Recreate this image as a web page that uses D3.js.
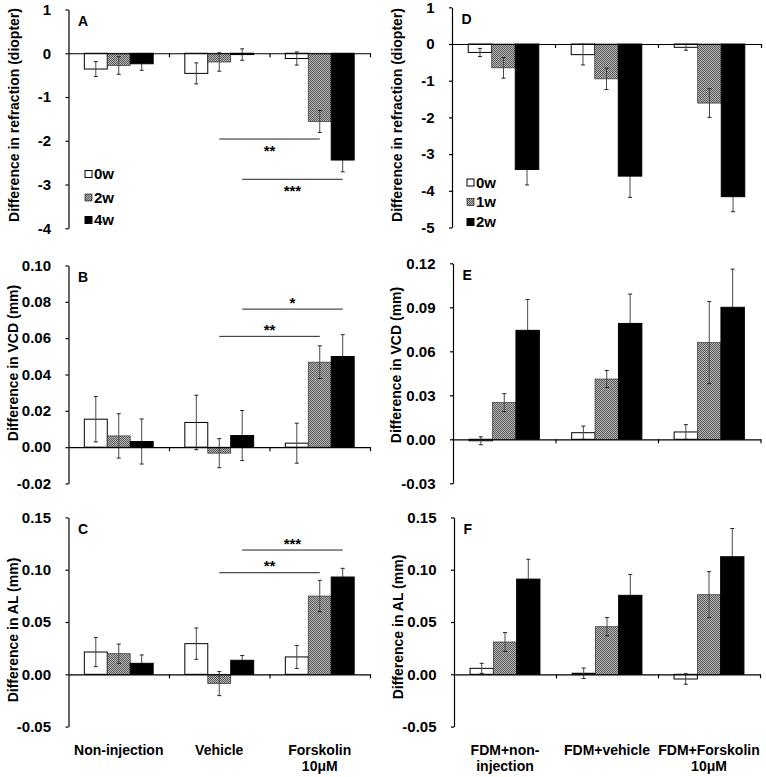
<!DOCTYPE html>
<html>
<head>
<meta charset="utf-8">
<script src="https://cdn.jsdelivr.net/npm/d3@7"></script>
<style>
  html, body { margin: 0; padding: 0; background: #fff; }
  svg { display: block; }
  text { font-family: "Liberation Sans", Arial, Helvetica, sans-serif; font-weight: bold; fill: #000; }
</style>
</head>
<body>
<script>
// ---------------- DATA ----------------
const catsLeft = ["Non-injection", "Vehicle", "Forskolin 10μM"];
const catLinesLeft = [["Non-injection"], ["Vehicle"], ["Forskolin", "10μM"]];
const catsRight = ["FDM+non-injection", "FDM+vehicle", "FDM+Forskolin 10μM"];
const catLinesRight = [["FDM+non-", "injection"], ["FDM+vehicle"], ["FDM+Forskolin", "10μM"]];
const seriesLeft = ["0w", "2w", "4w"];
const seriesRight = ["0w", "1w", "2w"];

// values per series (rows) x category (columns)
const refrA    = [[-0.36, -0.46, -0.12], [-0.28, -0.20, -1.56], [-0.24, -0.03, -2.44]];
const refrAErr = [[0.17, 0.24, 0.15], [0.20, 0.21, 0.25], [0.15, 0.13, 0.27]];
const vcdB     = [[0.0154, 0.0136, 0.0022], [0.0062, -0.0033, 0.0468], [0.0031, 0.0064, 0.0499]];
const vcdBErr  = [[0.0125, 0.0150, 0.0110], [0.0122, 0.0080, 0.0090], [0.0124, 0.0138, 0.0120]];
const alC      = [[0.0213, 0.0293, 0.0166], [0.0197, -0.0089, 0.0748], [0.0105, 0.0134, 0.0930]];
const alCErr   = [[0.0140, 0.0150, 0.0110], [0.0092, 0.0115, 0.0150], [0.0080, 0.0045, 0.0083]];
const refrD    = [[-0.23, -0.29, -0.09], [-0.65, -0.95, -1.61], [-3.42, -3.60, -4.16]];
const refrDErr = [[0.11, 0.28, 0.08], [0.28, 0.29, 0.39], [0.42, 0.58, 0.41]];
const vcdE     = [[-0.0010, 0.0045, 0.0050], [0.0250, 0.0411, 0.0659], [0.0743, 0.0790, 0.0900]];
const vcdEErr  = [[0.0027, 0.0045, 0.0050], [0.0061, 0.0058, 0.0280], [0.0210, 0.0200, 0.0260]];
const alF      = [[0.0057, 0.0010, -0.0045], [0.0309, 0.0455, 0.0761], [0.0910, 0.0755, 0.1124]];
const alFErr   = [[0.0048, 0.0050, 0.0050], [0.0090, 0.0087, 0.0220], [0.0190, 0.0200, 0.0270]];

// y tick labels
const ticksRefrA = [1, 0, -1, -2, -3, -4];
const ticksRefrD = [1, 0, -1, -2, -3, -4, -5];
const ticksVcdB = [0.10, 0.08, 0.06, 0.04, 0.02, 0.00, -0.02];
const ticksVcdE = [0.12, 0.09, 0.06, 0.03, 0.00, -0.03];
const ticksAL = [0.15, 0.10, 0.05, 0.00, -0.05];

// significance brackets: [fromCategory, fromSeries] -> [toCategory, toSeries] at value y
const sigA = [
  { from: [1, 1], to: [2, 1], y: -1.96, label: "**", side: "below" },
  { from: [1, 2], to: [2, 2], y: -2.88, label: "***", side: "below" }
];
const sigB = [
  { from: [1, 2], to: [2, 2], y: 0.0760, label: "*", side: "above" },
  { from: [1, 1], to: [2, 1], y: 0.0610, label: "**", side: "above" }
];
const sigC = [
  { from: [1, 2], to: [2, 2], y: 0.1188, label: "***", side: "above" },
  { from: [1, 1], to: [2, 1], y: 0.0971, label: "**", side: "above" }
];

// ---------------- LAYOUT ----------------
const W = 766, H = 777;
const svg = d3.select("body").append("svg").attr("width", W).attr("height", H);
const defs = svg.append("defs");
const pat = defs.append("pattern").attr("id", "chk").attr("patternUnits", "userSpaceOnUse")
  .attr("width", 2).attr("height", 2);
pat.append("rect").attr("width", 2).attr("height", 2).attr("fill", "#b4b4b4");
pat.append("rect").attr("x", 0).attr("y", 0).attr("width", 1).attr("height", 1).attr("fill", "#5c5c5c");
pat.append("rect").attr("x", 1).attr("y", 1).attr("width", 1).attr("height", 1).attr("fill", "#5c5c5c");

const fills = ["#ffffff", "url(#chk)", "#000000"];
const strokes = ["#000", "#333", "#000"];

const panels = [
  { id: "A", cats: catsLeft, series: seriesLeft, vals: refrA, errs: refrAErr, ticks: ticksRefrA, fmt: d3.format("d"),
    x0: 68.5, x1: 370, yTop: 9.5, yBot: 228.3, title: "Difference in refraction (diopter)", titleX: 14, titleY: 115,
    legend: { x: 85, y: [174, 197.5, 220] }, sig: sigA },
  { id: "B", cats: catsLeft, series: seriesLeft, vals: vcdB, errs: vcdBErr, ticks: ticksVcdB, fmt: d3.format(".2f"),
    x0: 68.5, x1: 370, yTop: 265.5, yBot: 483.5, title: "Difference in VCD (mm)", titleX: 13.5, titleY: 363, sig: sigB },
  { id: "C", cats: catsLeft, series: seriesLeft, vals: alC, errs: alCErr, ticks: ticksAL, fmt: d3.format(".2f"),
    x0: 68.5, x1: 370, yTop: 517.4, yBot: 726.6, title: "Difference in AL (mm)", titleX: 13.5, titleY: 630, sig: sigC,
    xlabels: catLinesLeft },
  { id: "D", cats: catsRight, series: seriesRight, vals: refrD, errs: refrDErr, ticks: ticksRefrD, fmt: d3.format("d"),
    x0: 452, x1: 761, yTop: 7.3, yBot: 227.5, title: "Difference in refraction (diopter)", titleX: 397, titleY: 115,
    legend: { x: 467, y: [182.5, 202, 222] } },
  { id: "E", cats: catsRight, series: seriesRight, vals: vcdE, errs: vcdEErr, ticks: ticksVcdE, fmt: d3.format(".2f"),
    x0: 453, x1: 760.5, yTop: 263.3, yBot: 483.3, title: "Difference in VCD (mm)", titleX: 396.5, titleY: 365 },
  { id: "F", cats: catsRight, series: seriesRight, vals: alF, errs: alFErr, ticks: ticksAL, fmt: d3.format(".2f"),
    x0: 454, x1: 760, yTop: 517.4, yBot: 726.6, title: "Difference in AL (mm)", titleX: 398, titleY: 627,
    xlabels: catLinesRight }
];

panels.forEach(p => {
  const g = svg.append("g");
  const tmin = d3.min(p.ticks), tmax = d3.max(p.ticks);
  const y = d3.scaleLinear().domain([tmin, tmax]).range([p.yBot, p.yTop]);
  const x0 = d3.scaleBand().domain(p.cats).range([p.x0, p.x1]).paddingInner(0.315).paddingOuter(0.1575);
  const x1 = d3.scaleBand().domain(p.series).range([0, x0.bandwidth()]);
  const step = x0.step();

  // bars (non-black first)
  const barData = [];
  p.series.forEach((s, si) => p.cats.forEach((c, ci) => {
    barData.push({ s, si, c, ci, v: p.vals[si][ci], e: p.errs[si][ci] });
  }));
  const barX = d => x0(d.c) + x1(d.s);
  const drawBars = data => g.selectAll(null).data(data).enter().append("rect")
    .attr("x", barX)
    .attr("y", d => y(Math.max(0, d.v)))
    .attr("width", x1.bandwidth())
    .attr("height", d => Math.abs(y(d.v) - y(0)))
    .attr("fill", d => fills[d.si])
    .attr("stroke", d => strokes[d.si])
    .attr("stroke-width", d => d.si === 1 ? 0.7 : 1);
  drawBars(barData.filter(d => d.si < 2));

  // error bars
  const eg = g.append("g").attr("stroke", "#4a4a4a").attr("stroke-width", 1).attr("fill", "none");
  barData.forEach(d => {
    const cx = barX(d) + x1.bandwidth() / 2;
    const lo = y(d.v - d.e), hi = y(d.v + d.e);
    eg.append("line").attr("x1", cx).attr("x2", cx).attr("y1", lo).attr("y2", hi);
    eg.append("line").attr("x1", cx - 2).attr("x2", cx + 2).attr("y1", lo).attr("y2", lo).attr("stroke", "#222");
    eg.append("line").attr("x1", cx - 2).attr("x2", cx + 2).attr("y1", hi).attr("y2", hi).attr("stroke", "#222");
  });
  drawBars(barData.filter(d => d.si === 2));

  // x axis at zero
  const xl = d3.scaleLinear().domain([0, p.cats.length]).range([p.x0, p.x1]);
  const xAxis = g.append("g").attr("transform", `translate(0,${y(0)})`)
    .call(d3.axisBottom(xl).tickValues(d3.range(1, p.cats.length + 1)).tickFormat("").tickSize(4).tickSizeOuter(0));
  xAxis.selectAll("path,line").attr("stroke", "#000").attr("stroke-width", 1.2);

  // y axis
  const yAxis = g.append("g").attr("transform", `translate(${p.x0},0)`)
    .call(d3.axisLeft(y).tickValues(p.ticks).tickFormat(p.fmt).tickSize(3).tickPadding(14.5).tickSizeOuter(0));
  yAxis.selectAll("path,line").attr("stroke", "#000").attr("stroke-width", 1.2);
  yAxis.selectAll("text").attr("font-size", 15).attr("font-family", null).attr("fill", "#000")
    .text(d => (d < 0 ? "-" : "") + p.fmt(Math.abs(d)));
  yAxis.attr("font-family", null);

  // title
  g.append("text").attr("transform", `translate(${p.titleX},${p.titleY}) rotate(-90)`)
    .attr("text-anchor", "middle").attr("dy", "0.35em").attr("font-size", 14).text(p.title);

  // panel letter
  g.append("text").attr("x", p.x0 + 9.5).attr("y", p.yTop + 16.5).attr("font-size", 14).text(p.id);

  // legend
  if (p.legend) {
    p.series.forEach((s, si) => {
      const ly = p.legend.y[si];
      g.append("rect").attr("x", p.legend.x).attr("y", ly - 3.5).attr("width", 7).attr("height", 7)
        .attr("fill", fills[si]).attr("stroke", "#000").attr("stroke-width", si === 1 ? 0.6 : 1);
      g.append("text").attr("x", p.legend.x + 9).attr("y", ly).attr("dy", "0.36em").attr("font-size", 15).text(s);
    });
  }

  // significance
  if (p.sig) {
    p.sig.forEach(s => {
      const xa = x0(p.cats[s.from[0]]) + x1(p.series[s.from[1]]) + x1.bandwidth() / 2;
      const xb = x0(p.cats[s.to[0]]) + x1(p.series[s.to[1]]) + x1.bandwidth() / 2;
      const ly = y(s.y);
      g.append("line").attr("x1", xa).attr("x2", xb).attr("y1", ly).attr("y2", ly)
        .attr("stroke", "#222").attr("stroke-width", 1);
      const glyphCenter = s.side === "below" ? ly + 8.5 : ly - 9.5;
      g.append("text").attr("x", (xa + xb) / 2).attr("y", glyphCenter + 8).attr("text-anchor", "middle")
        .attr("font-size", 15).text(s.label);
    });
  }

  // category labels
  if (p.xlabels) {
    p.cats.forEach((c, ci) => {
      const cx = x0(c) + x0.bandwidth() / 2;
      p.xlabels[ci].forEach((line, li) => {
        g.append("text").attr("x", cx).attr("y", 755 + li * 16).attr("text-anchor", "middle")
          .attr("font-size", 14).text(line);
      });
    });
  }
});
</script>
</body>
</html>
